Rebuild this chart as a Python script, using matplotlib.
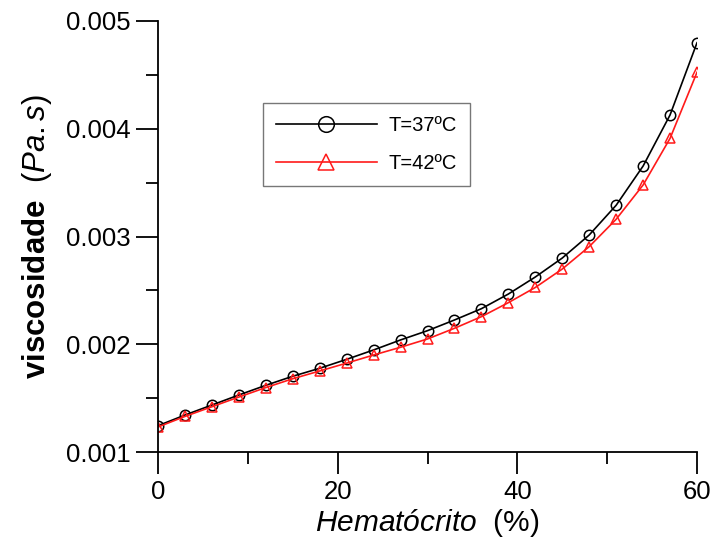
import numpy as np
import matplotlib.pyplot as plt
from matplotlib.ticker import MultipleLocator

plt.rcParams['font.family'] = ['Liberation Sans', 'DejaVu Sans']
plt.rcParams['mathtext.fontset'] = 'custom'
plt.rcParams['mathtext.rm'] = 'Liberation Sans'
plt.rcParams['mathtext.it'] = 'Liberation Sans:italic'
plt.rcParams['mathtext.bf'] = 'Liberation Sans:bold'

# hematocrit (%)
hematocrito = [0, 3, 6, 9, 12, 15, 18, 21, 24, 27, 30, 33, 36, 39, 42, 45, 48, 51, 54, 57, 60]
# viscosity (Pa.s) at 37 C
visc_37 = [0.001244, 0.001343, 0.001436, 0.001529, 0.001619, 0.001703, 0.001777, 0.001860,
           0.001947, 0.002040, 0.002126, 0.002225, 0.002330, 0.002466, 0.002624, 0.002800,
           0.003014, 0.003290, 0.003654, 0.004128, 0.004798]
# viscosity (Pa.s) at 42 C
visc_42 = [0.001232, 0.001330, 0.001420, 0.001510, 0.001598, 0.001680, 0.001752, 0.001825,
           0.001900, 0.001972, 0.002049, 0.002148, 0.002256, 0.002386, 0.002527, 0.002698,
           0.002906, 0.003160, 0.003478, 0.003911, 0.004524]

fig = plt.figure(figsize=(7.12, 5.52), dpi=100)
ax = fig.add_axes([158 / 712, 1 - 452 / 552, (697 - 158) / 712, (452 - 21) / 552])

ax.plot(hematocrito, visc_37, color='black', lw=1.2, marker='o', ms=7.5,
        mfc='none', mec='black', mew=1.1, label='T=37ºC')
ax.plot(hematocrito, visc_42, color='#ff1a1a', lw=1.2, marker='^', ms=7.5,
        mfc='none', mec='#ff1a1a', mew=1.1, label='T=42ºC')

ax.set_xlim(0, 60)
ax.set_ylim(0.001, 0.005)
ax.xaxis.set_major_locator(MultipleLocator(20))
ax.xaxis.set_minor_locator(MultipleLocator(10))
ax.yaxis.set_major_locator(MultipleLocator(0.001))
ax.yaxis.set_minor_locator(MultipleLocator(0.0005))
ax.yaxis.set_major_formatter(plt.FuncFormatter(lambda v, p: f'{v:.3f}'))

for s in ['top', 'right']:
    ax.spines[s].set_visible(False)
for s in ['left', 'bottom']:
    ax.spines[s].set_linewidth(1.3)

ax.tick_params(which='major', length=16, width=1.3, labelsize=18.5, pad=4)
ax.tick_params(which='minor', length=8.5, width=1.3)

ax.set_xlabel(r'$\it{Hematócrito}$  (%)', fontsize=21.5, labelpad=2)
ax.set_ylabel(r'$\bf{viscosidade}$  ($\it{Pa.s}$)', fontsize=22.5, labelpad=8)

leg = ax.legend(loc='upper left', bbox_to_anchor=((263 - 158) / 539, 1 - (103 - 21) / 431),
                borderaxespad=0, fontsize=14.5, frameon=True, fancybox=False,
                handlelength=5.0, markerscale=1.5, borderpad=0.65, labelspacing=0.95,
                handletextpad=0.6)
leg.get_frame().set_edgecolor('#555555')
leg.get_frame().set_linewidth(1.0)

fig.savefig('out.png', dpi=100)
